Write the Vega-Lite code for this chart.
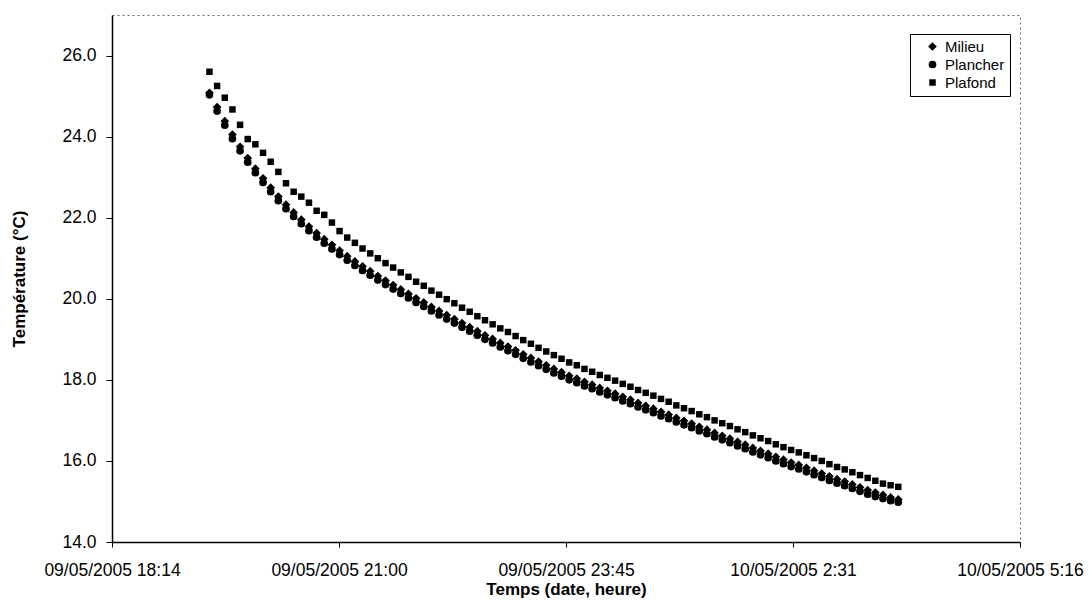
{
"$schema": "https://vega.github.io/schema/vega-lite/v6.json",
"width": 908, "height": 527,
"autosize": {"type": "none"},
"padding": {"left": 112, "top": 15, "right": 69, "bottom": 59},
"background": "white",
"config": {
 "view": {"stroke": "#666666", "strokeDash": [2, 3], "strokeWidth": 1},
 "font": "Liberation Sans",
 "axis": {"grid": false, "domainColor": "black", "domainWidth": 1.5, "tickColor": "black", "tickWidth": 1, "labelColor": "black", "titleColor": "black", "labelFont": "Liberation Sans", "titleFont": "Liberation Sans", "labelFontSize": 17.5, "titleFontSize": 17, "titleFontWeight": "bold"},
 "legend": {"title": null, "orient": "none", "legendX": 798, "legendY": 19, "direction": "vertical", "strokeColor": "black", "fillColor": "white", "padding": 5, "labelFont": "Liberation Sans", "labelFontSize": 15, "labelColor": "black", "symbolFillColor": "black", "symbolStrokeColor": "black", "symbolStrokeWidth": 0, "symbolOffset": 10, "labelOffset": 5, "rowPadding": 2}
},
"data": {"values": [
{"t":"2005-05-09T19:25:30","Milieu":25.08,"Plancher":25.03,"Plafond":25.60},
{"t":"2005-05-09T19:31:05","Milieu":24.73,"Plancher":24.63,"Plafond":25.25},
{"t":"2005-05-09T19:36:40","Milieu":24.38,"Plancher":24.28,"Plafond":24.96},
{"t":"2005-05-09T19:42:15","Milieu":24.05,"Plancher":23.95,"Plafond":24.67},
{"t":"2005-05-09T19:47:50","Milieu":23.75,"Plancher":23.65,"Plafond":24.29},
{"t":"2005-05-09T19:53:25","Milieu":23.47,"Plancher":23.37,"Plafond":23.94},
{"t":"2005-05-09T19:59:00","Milieu":23.21,"Plancher":23.11,"Plafond":23.81},
{"t":"2005-05-09T20:04:35","Milieu":22.97,"Plancher":22.87,"Plafond":23.60},
{"t":"2005-05-09T20:10:10","Milieu":22.74,"Plancher":22.64,"Plafond":23.38},
{"t":"2005-05-09T20:15:45","Milieu":22.52,"Plancher":22.42,"Plafond":23.13},
{"t":"2005-05-09T20:21:20","Milieu":22.32,"Plancher":22.22,"Plafond":22.85},
{"t":"2005-05-09T20:26:55","Milieu":22.13,"Plancher":22.03,"Plafond":22.64},
{"t":"2005-05-09T20:32:30","Milieu":21.95,"Plancher":21.85,"Plafond":22.52},
{"t":"2005-05-09T20:38:05","Milieu":21.78,"Plancher":21.68,"Plafond":22.37},
{"t":"2005-05-09T20:43:40","Milieu":21.62,"Plancher":21.52,"Plafond":22.17},
{"t":"2005-05-09T20:49:15","Milieu":21.47,"Plancher":21.37,"Plafond":22.07},
{"t":"2005-05-09T20:54:50","Milieu":21.33,"Plancher":21.23,"Plafond":21.88},
{"t":"2005-05-09T21:00:25","Milieu":21.19,"Plancher":21.09,"Plafond":21.67},
{"t":"2005-05-09T21:06:00","Milieu":21.05,"Plancher":20.95,"Plafond":21.51},
{"t":"2005-05-09T21:11:35","Milieu":20.92,"Plancher":20.82,"Plafond":21.38},
{"t":"2005-05-09T21:17:10","Milieu":20.80,"Plancher":20.70,"Plafond":21.24},
{"t":"2005-05-09T21:22:45","Milieu":20.68,"Plancher":20.58,"Plafond":21.12},
{"t":"2005-05-09T21:28:20","Milieu":20.56,"Plancher":20.46,"Plafond":21.00},
{"t":"2005-05-09T21:33:55","Milieu":20.45,"Plancher":20.35,"Plafond":20.88},
{"t":"2005-05-09T21:39:30","Milieu":20.34,"Plancher":20.24,"Plafond":20.77},
{"t":"2005-05-09T21:45:05","Milieu":20.23,"Plancher":20.13,"Plafond":20.65},
{"t":"2005-05-09T21:50:40","Milieu":20.12,"Plancher":20.02,"Plafond":20.54},
{"t":"2005-05-09T21:56:15","Milieu":20.01,"Plancher":19.91,"Plafond":20.42},
{"t":"2005-05-09T22:01:50","Milieu":19.91,"Plancher":19.81,"Plafond":20.32},
{"t":"2005-05-09T22:07:25","Milieu":19.80,"Plancher":19.70,"Plafond":20.20},
{"t":"2005-05-09T22:13:00","Milieu":19.70,"Plancher":19.60,"Plafond":20.10},
{"t":"2005-05-09T22:18:35","Milieu":19.60,"Plancher":19.50,"Plafond":19.99},
{"t":"2005-05-09T22:24:10","Milieu":19.50,"Plancher":19.40,"Plafond":19.89},
{"t":"2005-05-09T22:29:45","Milieu":19.40,"Plancher":19.30,"Plafond":19.78},
{"t":"2005-05-09T22:35:20","Milieu":19.30,"Plancher":19.20,"Plafond":19.68},
{"t":"2005-05-09T22:40:55","Milieu":19.20,"Plancher":19.10,"Plafond":19.57},
{"t":"2005-05-09T22:46:30","Milieu":19.10,"Plancher":19.00,"Plafond":19.47},
{"t":"2005-05-09T22:52:05","Milieu":19.01,"Plancher":18.91,"Plafond":19.37},
{"t":"2005-05-09T22:57:40","Milieu":18.91,"Plancher":18.81,"Plafond":19.27},
{"t":"2005-05-09T23:03:15","Milieu":18.82,"Plancher":18.72,"Plafond":19.18},
{"t":"2005-05-09T23:08:50","Milieu":18.73,"Plancher":18.63,"Plafond":19.08},
{"t":"2005-05-09T23:14:25","Milieu":18.63,"Plancher":18.53,"Plafond":18.98},
{"t":"2005-05-09T23:20:00","Milieu":18.54,"Plancher":18.44,"Plafond":18.89},
{"t":"2005-05-09T23:25:35","Milieu":18.45,"Plancher":18.35,"Plafond":18.79},
{"t":"2005-05-09T23:31:10","Milieu":18.36,"Plancher":18.26,"Plafond":18.70},
{"t":"2005-05-09T23:36:45","Milieu":18.27,"Plancher":18.17,"Plafond":18.61},
{"t":"2005-05-09T23:42:20","Milieu":18.19,"Plancher":18.09,"Plafond":18.52},
{"t":"2005-05-09T23:47:55","Milieu":18.10,"Plancher":18.00,"Plafond":18.43},
{"t":"2005-05-09T23:53:30","Milieu":18.03,"Plancher":17.93,"Plafond":18.36},
{"t":"2005-05-09T23:59:05","Milieu":17.95,"Plancher":17.85,"Plafond":18.27},
{"t":"2005-05-10T00:04:40","Milieu":17.88,"Plancher":17.78,"Plafond":18.20},
{"t":"2005-05-10T00:10:15","Milieu":17.80,"Plancher":17.70,"Plafond":18.12},
{"t":"2005-05-10T00:15:50","Milieu":17.73,"Plancher":17.63,"Plafond":18.05},
{"t":"2005-05-10T00:21:25","Milieu":17.66,"Plancher":17.56,"Plafond":17.98},
{"t":"2005-05-10T00:27:00","Milieu":17.58,"Plancher":17.48,"Plafond":17.90},
{"t":"2005-05-10T00:32:35","Milieu":17.51,"Plancher":17.41,"Plafond":17.83},
{"t":"2005-05-10T00:38:10","Milieu":17.43,"Plancher":17.33,"Plafond":17.75},
{"t":"2005-05-10T00:43:45","Milieu":17.36,"Plancher":17.26,"Plafond":17.68},
{"t":"2005-05-10T00:49:20","Milieu":17.29,"Plancher":17.19,"Plafond":17.61},
{"t":"2005-05-10T00:54:55","Milieu":17.21,"Plancher":17.11,"Plafond":17.53},
{"t":"2005-05-10T01:00:30","Milieu":17.14,"Plancher":17.04,"Plafond":17.46},
{"t":"2005-05-10T01:06:05","Milieu":17.06,"Plancher":16.96,"Plafond":17.37},
{"t":"2005-05-10T01:11:40","Milieu":16.99,"Plancher":16.89,"Plafond":17.30},
{"t":"2005-05-10T01:17:15","Milieu":16.92,"Plancher":16.82,"Plafond":17.23},
{"t":"2005-05-10T01:22:50","Milieu":16.84,"Plancher":16.74,"Plafond":17.15},
{"t":"2005-05-10T01:28:25","Milieu":16.77,"Plancher":16.67,"Plafond":17.08},
{"t":"2005-05-10T01:34:00","Milieu":16.69,"Plancher":16.59,"Plafond":17.00},
{"t":"2005-05-10T01:39:35","Milieu":16.62,"Plancher":16.52,"Plafond":16.93},
{"t":"2005-05-10T01:45:10","Milieu":16.55,"Plancher":16.45,"Plafond":16.86},
{"t":"2005-05-10T01:50:45","Milieu":16.47,"Plancher":16.37,"Plafond":16.78},
{"t":"2005-05-10T01:56:20","Milieu":16.40,"Plancher":16.30,"Plafond":16.71},
{"t":"2005-05-10T02:01:55","Milieu":16.32,"Plancher":16.22,"Plafond":16.63},
{"t":"2005-05-10T02:07:30","Milieu":16.25,"Plancher":16.15,"Plafond":16.56},
{"t":"2005-05-10T02:13:05","Milieu":16.18,"Plancher":16.08,"Plafond":16.49},
{"t":"2005-05-10T02:18:40","Milieu":16.10,"Plancher":16.00,"Plafond":16.41},
{"t":"2005-05-10T02:24:15","Milieu":16.03,"Plancher":15.93,"Plafond":16.34},
{"t":"2005-05-10T02:29:50","Milieu":15.96,"Plancher":15.86,"Plafond":16.27},
{"t":"2005-05-10T02:35:25","Milieu":15.90,"Plancher":15.80,"Plafond":16.21},
{"t":"2005-05-10T02:41:00","Milieu":15.83,"Plancher":15.73,"Plafond":16.14},
{"t":"2005-05-10T02:46:35","Milieu":15.76,"Plancher":15.66,"Plafond":16.07},
{"t":"2005-05-10T02:52:10","Milieu":15.69,"Plancher":15.59,"Plafond":16.00},
{"t":"2005-05-10T02:57:45","Milieu":15.62,"Plancher":15.52,"Plafond":15.92},
{"t":"2005-05-10T03:03:20","Milieu":15.55,"Plancher":15.45,"Plafond":15.85},
{"t":"2005-05-10T03:08:55","Milieu":15.49,"Plancher":15.39,"Plafond":15.79},
{"t":"2005-05-10T03:14:30","Milieu":15.42,"Plancher":15.32,"Plafond":15.72},
{"t":"2005-05-10T03:20:05","Milieu":15.35,"Plancher":15.25,"Plafond":15.65},
{"t":"2005-05-10T03:25:40","Milieu":15.28,"Plancher":15.18,"Plafond":15.58},
{"t":"2005-05-10T03:31:15","Milieu":15.22,"Plancher":15.12,"Plafond":15.51},
{"t":"2005-05-10T03:36:50","Milieu":15.16,"Plancher":15.07,"Plafond":15.44},
{"t":"2005-05-10T03:42:25","Milieu":15.10,"Plancher":15.02,"Plafond":15.40},
{"t":"2005-05-10T03:48:00","Milieu":15.05,"Plancher":14.98,"Plafond":15.36}
]},
"transform": [{"fold": ["Milieu", "Plancher", "Plafond"], "as": ["serie", "temp"]}],
"mark": {"type": "point", "filled": true, "opacity": 1, "color": "black"},
"encoding": {
 "x": {"field": "t", "type": "temporal",
  "scale": {"domain": [{"year": 2005, "month": 5, "date": 9, "hours": 18, "minutes": 14, "seconds": 24}, {"year": 2005, "month": 5, "date": 10, "hours": 5, "minutes": 16, "seconds": 48}]},
  "axis": {"title": "Temps (date, heure)", "format": "%d/%m/%Y %-H:%M", "labelFlush": false, "labelOverlap": false, "tickSize": 5, "labelPadding": 14, "titlePadding": 3,
   "values": [
    {"year": 2005, "month": 5, "date": 9, "hours": 18, "minutes": 14, "seconds": 24},
    {"year": 2005, "month": 5, "date": 9, "hours": 21, "minutes": 0, "seconds": 0},
    {"year": 2005, "month": 5, "date": 9, "hours": 23, "minutes": 45, "seconds": 36},
    {"year": 2005, "month": 5, "date": 10, "hours": 2, "minutes": 31, "seconds": 12},
    {"year": 2005, "month": 5, "date": 10, "hours": 5, "minutes": 16, "seconds": 48}]}},
 "y": {"field": "temp", "type": "quantitative",
  "scale": {"domain": [14, 27], "nice": false, "zero": false},
  "axis": {"title": "Température (°C)", "values": [14, 16, 18, 20, 22, 24, 26], "format": ".1f", "tickSize": 6, "labelPadding": 10, "titlePadding": 33}},
 "shape": {"field": "serie", "type": "nominal",
  "scale": {"domain": ["Milieu", "Plancher", "Plafond"], "range": ["diamond", "circle", "square"]}},
 "size": {"field": "serie", "type": "nominal",
  "scale": {"domain": ["Milieu", "Plancher", "Plafond"], "range": [76, 42, 55]}}
}
}
